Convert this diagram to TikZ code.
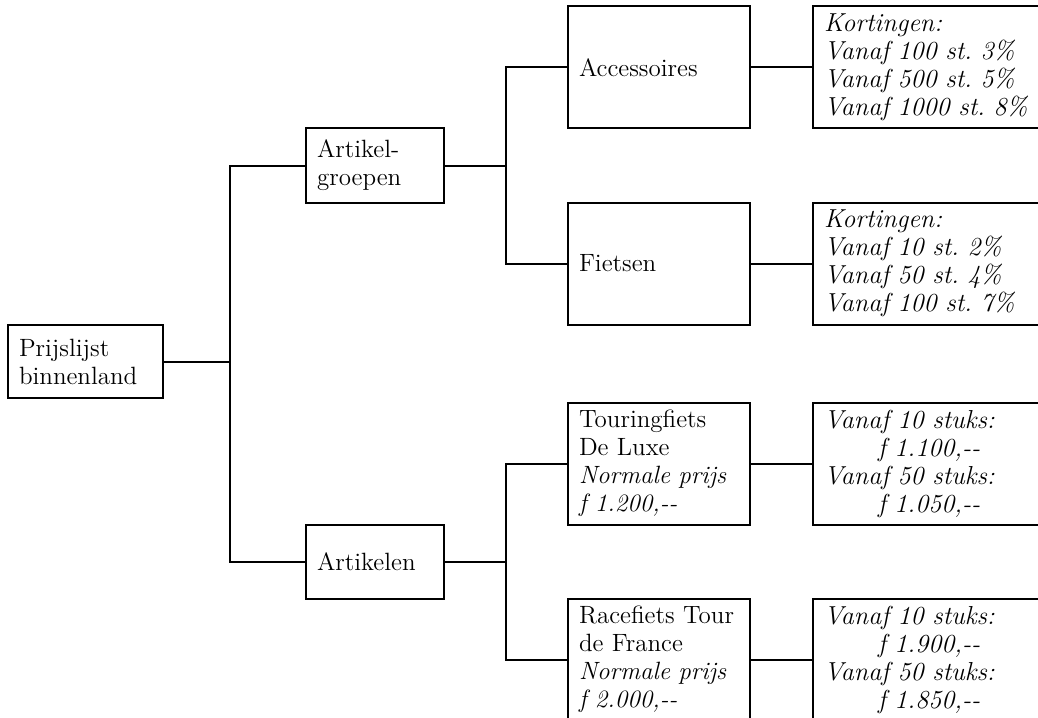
\documentclass[tikz,border=0pt]{standalone}

\frenchspacing
\tikzset{
  box/.style = {draw, line width=1pt, inner xsep=5.5pt, inner ysep=3pt,
    align=left, font=\fontsize{12.5}{14}\selectfont},
  rootbox/.style = {box, text width=66.5pt, minimum height=36.5pt},
  groupbox/.style = {box, text width=58pt, minimum height=37pt},
  itembox/.style = {box, text width=80pt, minimum height=61pt},
  pricebox/.style = {box, text width=114pt, minimum height=61pt,
    font=\fontsize{13}{14}\selectfont\itshape},
}

\begin{document}
\begin{tikzpicture}
      [
        grow' = right,
        edge from parent/.style = {draw, line width=1pt},
        level 1/.style = {level distance = 144.75pt, sibling distance = 196pt,
          edge from parent path = {(\tikzparentnode.east) -- ++(33pt,0) |- (\tikzchildnode.west)}},
        level 2/.style = {level distance = 142pt, sibling distance = 98pt,
          edge from parent path = {(\tikzparentnode.east) -- ++(30.5pt,0) |- (\tikzchildnode.west)}},
        level 3/.style = {level distance = 139.5pt,
          edge from parent path = {(\tikzparentnode.east) -- (\tikzchildnode.west)}},
      ]

      \useasboundingbox (0,0) rectangle (519pt,-358.5pt);
      \clip (0,0) rectangle (519pt,-358.5pt);

      \node[rootbox] (prijs) at (42.75pt,-180.75pt) {Prijslijst\\binnenland}
      child {
          node[groupbox] (groepen) {Artikel-\\groepen}
          child {
              node[itembox] (accessoires) {Accessoires}
              child { node[pricebox] (kortacc) {Kortingen:\\Vanaf 100 st. 3\%\\Vanaf 500 st. 5\%\\Vanaf 1000 st. 8\%}}
            }
          child {
              node[itembox] (fietsen) {Fietsen}
              child { node[pricebox] (kortfiets) {Kortingen:\\Vanaf 10 st. 2\%\\Vanaf 50 st. 4\%\\Vanaf 100 st. 7\%}}
            }
        }
      child[yshift=-2pt] {
          node[groupbox] (artikelen) {Artikelen}
          child {
              node[itembox] (touring) {Touringfiets\\De Luxe\\\textit{Normale prijs}\\\textit{f 1.200,-{}-}}
              child { node[pricebox] (staffeltouring) {Vanaf 10 stuks:\\\hspace*{27pt}f 1.100,-{}-\\Vanaf 50 stuks:\\\hspace*{27pt}f 1.050,-{}-}}
            }
          child {
              node[itembox] (race) {Racefiets Tour\\de France\\\textit{Normale prijs}\\\textit{f 2.000,-{}-}}
              child { node[pricebox] (staffelrace) {Vanaf 10 stuks:\\\hspace*{27pt}f 1.900,-{}-\\Vanaf 50 stuks:\\\hspace*{27pt}f 1.850,-{}-}}
            }
        }
      ;

    \end{tikzpicture}
\end{document}
